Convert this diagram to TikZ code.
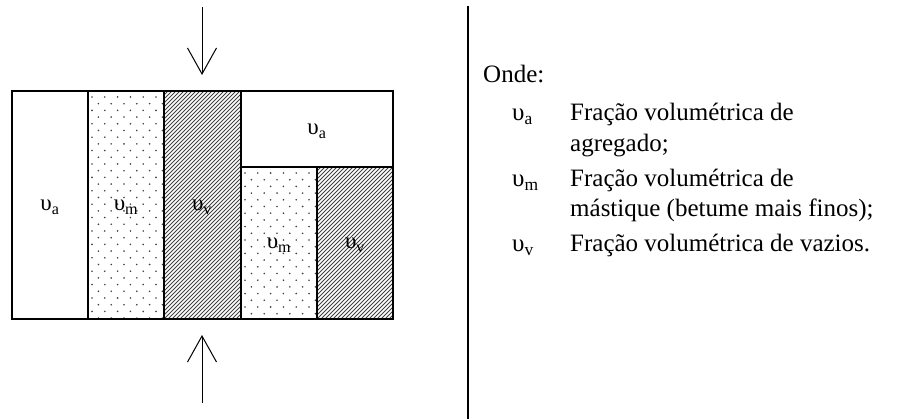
\documentclass[tikz,border=0pt]{standalone}
\usepackage{fontspec}
\setmainfont{Liberation Serif}
\usetikzlibrary{arrows.meta}
\newcommand\upsl[1]{υ\textsubscript{#1}}
\newcommand\hatchregion[4]{%
  \begin{scope}
    \clip (#1,#2) rectangle (#3,#4);
    \foreach \k in {-300,-296,...,160}
      \draw[hatchline] (#1+\k,#4) -- ++(400,-400);
  \end{scope}}
\newcommand\dotregion[4]{%
  \begin{scope}
    \clip (#1,#2) rectangle (#3,#4);
    \foreach \r in {0,...,35}
      \foreach \c in {-1,...,7}
        \fill[dotmark] ({#1+4+mod(\r,2)*6.4+\c*12.8},{#2+6+\r*6.7}) circle (0.9);
  \end{scope}}
\begin{document}
\begin{tikzpicture}[x=1pt,y=-1pt,
  border/.style={draw=black,line width=1.7pt},
  hatchline/.style={line width=0.9pt,color=black!75},
  dotmark/.style={fill=black!75},
  lbl/.style={font=\fontsize{23}{26}\selectfont, inner sep=0pt},
  legend/.style={font=\fontsize{25}{30}\selectfont, anchor=base west, inner sep=0pt},
  force/.style={line width=1pt, -{Straight Barb[length=26pt,width=29pt,line width=1pt]}}
]
\useasboundingbox (0,0) rectangle (907,419);

% patterns
\dotregion{88}{91}{164}{319}
\hatchregion{164}{91}{241}{319}
\dotregion{241}{167}{317}{319}
\hatchregion{317}{167}{393}{319}

% borders
\draw[border] (12,91) rectangle (393,319);
\draw[border] (88,91) -- (88,319);
\draw[border] (164,91) -- (164,319);
\draw[border] (241,91) -- (241,319);
\draw[border] (241,167) -- (393,167);
\draw[border] (317,167) -- (317,319);

% labels
\node[lbl] (la) at (50,207) {\upsl{a}};
\node[lbl] (lm) at (126,207) {\upsl{m}};
\node[lbl] (lv) at (202,207) {\upsl{v}};
\node[lbl] (la2) at (317,131) {\upsl{a}};
\node[lbl] (lm2) at (279,245) {\upsl{m}};
\node[lbl] (lv2) at (355,245) {\upsl{v}};

% forces
\coordinate (t0) at (202,7);
\coordinate (t1) at (202,75);
\coordinate (b0) at (202,403);
\coordinate (b1) at (202,335);
\draw[force] (t0) -- (t1);
\draw[force] (b0) -- (b1);

% divider
\coordinate (d0) at (468,6);
\coordinate (d1) at (468,419);
\draw[line width=1.8pt] (d0) -- (d1);

% legend
\node[legend] (onde) at (483,83) {Onde:};
\node[legend] (s1) at (512,121) {\upsl{a}};
\node[legend] (t1a) at (570,121) {Fração volumétrica de};
\node[legend] (t1b) at (570,152) {agregado;};
\node[legend] (s2) at (512,187) {\upsl{m}};
\node[legend] (t2a) at (570,187) {Fração volumétrica de};
\node[legend] (t2b) at (570,217) {mástique (betume mais finos);};
\node[legend] (s3) at (512,252) {\upsl{v}};
\node[legend] (t3a) at (570,252) {Fração volumétrica de vazios.};
\end{tikzpicture}
\end{document}
